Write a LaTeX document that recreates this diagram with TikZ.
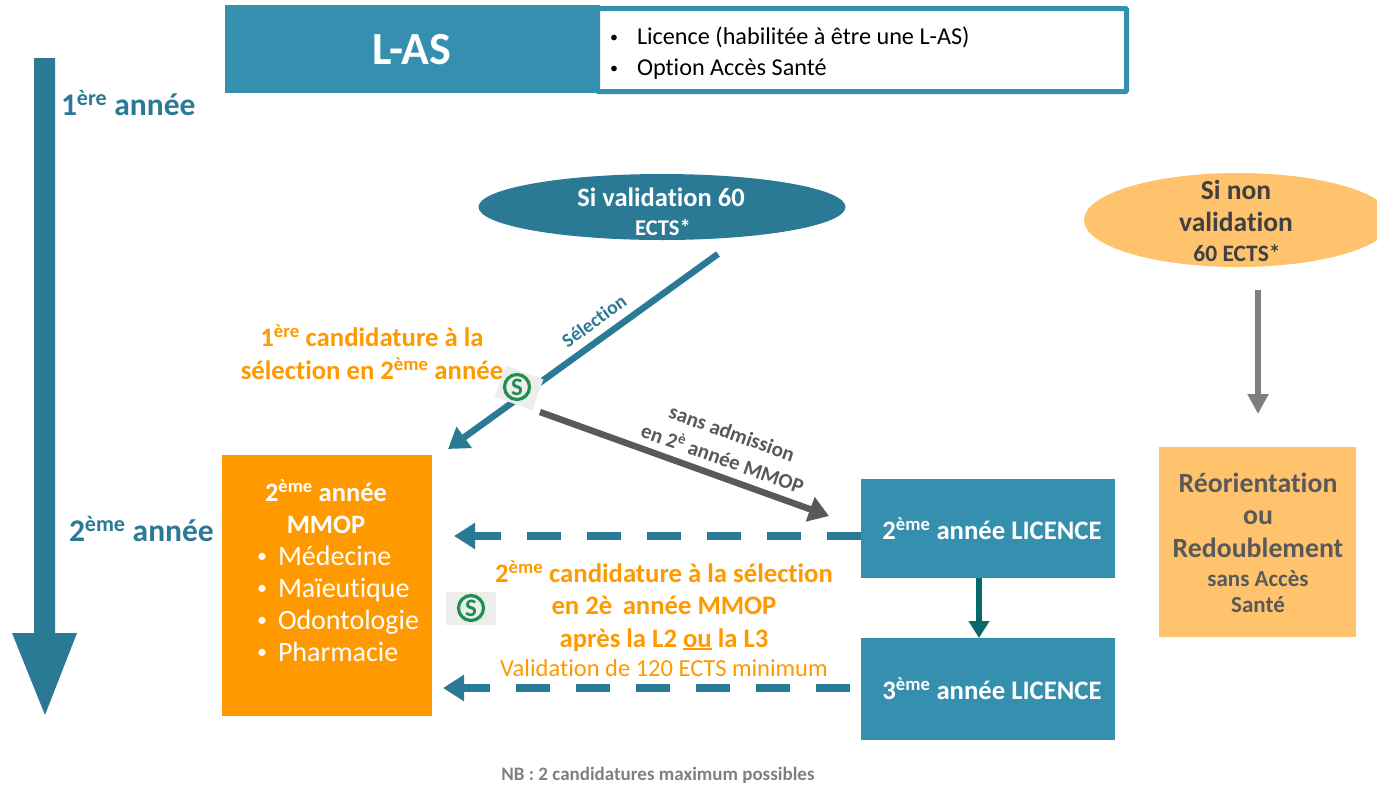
\documentclass[tikz,border=0pt]{standalone}
\usepackage{fontspec}
\setmainfont{Carlito}[Ligatures=NoCommon]
\usetikzlibrary{arrows.meta}
\definecolor{boxteal}{HTML}{3490AE}
\definecolor{darkteal}{HTML}{2B7A95}
\definecolor{orangeA}{HTML}{FF9900}
\definecolor{orangeB}{HTML}{FFC36D}
\definecolor{greyA}{HTML}{595959}
\definecolor{greyT}{HTML}{404040}
\definecolor{greyB}{HTML}{7F7F7F}
\definecolor{greenS}{HTML}{1E8F4E}
\definecolor{downgreen}{HTML}{056A6A}
\newcommand{\fs}[1]{\fontsize{#1}{#1}\selectfont}
\newcommand{\supr}[1]{\textsuperscript{#1}}
\newcommand{\ouline}[1]{\leavevmode\vtop{\hbox{#1}\kern0.5pt\hrule height 1.8pt}}
\tikzset{
  x=1pt,y=-1pt,
  every node/.style={inner sep=0pt,outer sep=0pt,align=center},
  tealbox/.style={fill=boxteal,draw=none,anchor=north west},
  yeartext/.style={text=darkteal,font=\bfseries\fs{31.5}},
  licbox/.style={text=white,font=\bfseries\fs{26.7}},
  orangetext/.style={text=orangeA,font=\bfseries\fs{26.7}},
  arrowdash/.style={draw=darkteal,line width=8pt,dash pattern=on 34pt off 26pt,-{Triangle[length=21pt,width=25pt]}},
  sbg/.style={fill=black!7,draw=none,minimum width=40pt,minimum height=33pt},
  scirc/.style={circle,draw=greenS,line width=3.2pt,minimum size=25pt,text=greenS,font=\bfseries\fs{25}},
}
\begin{document}
\begin{tikzpicture}
\useasboundingbox (0,0) rectangle (1377,785);
% left big arrow
\fill[darkteal] (34,58) -- (55,58) -- (55,633) -- (77,633) -- (45,715) -- (12,633) -- (34,633) -- cycle;
\node[yeartext,anchor=base west] (y1) at (61,115) {1\supr{ère} année};
\node[yeartext,anchor=base west] (y2) at (69,541) {2\supr{ème} année};
% top band
\fill[boxteal] (225,5) rectangle (600,93);
\node[text=white,font=\bfseries\fs{46}] (las) at (412,50) {L-AS};
\draw[boxteal,line width=5pt,fill=white,rounded corners=1pt] (597.5,8.5) rectangle (1126.5,91.5);
\node[anchor=base west,font=\fs{16}] (b1) at (610,42) {•};
\node[anchor=base west,font=\fs{24.2}] (t1) at (637,44) {Licence (habilitée à être une L-AS)};
\node[anchor=base west,font=\fs{16}] (b2) at (610,73) {•};
\node[anchor=base west,font=\fs{24.2}] (t2) at (637,75) {Option Accès Santé};
% ellipses
\fill[darkteal] (662,207) ellipse [x radius=183.5,y radius=33];
\node[text=white,font=\bfseries\fs{26.5}] (sv1) at (661,197) {Si validation 60};
\node[text=white,font=\bfseries\fs{22.5}] (sv2) at (663,228) {ECTS*};
\fill[orangeB] (1238,220) ellipse [x radius=154,y radius=47];
\node[text=greyT,font=\bfseries\fs{27.5}] (nv) at (1236,206) {Si non\\[4.5pt]validation};
\node[text=greyT,font=\bfseries\fs{23.5}] (nv2) at (1237,253) {60 ECTS*};
% main boxes
\node[fill=orangeA,anchor=north west,minimum width=210pt,minimum height=261pt] (mmop) at (222,455) {};
\node[text=white,font=\bfseries\fs{26.5}] (mt) at (326,507) {2\supr{ème} année\\[5.5pt]MMOP};
\foreach \yy/\tt in {565/Médecine,597/Maïeutique,629/Odontologie,661/Pharmacie}{
  \node[text=white,font=\fs{28},anchor=base west] at (278,\yy) {\tt};
  \node[text=white,font=\fs{20},anchor=base west] at (257,\yy-3) {•};
}
\node[tealbox,minimum width=254pt,minimum height=99pt] (l2) at (861,479) {};
\node[licbox] (l2t) at (992,529) {2\supr{ème} année LICENCE};
\node[tealbox,minimum width=254pt,minimum height=102pt] (l3) at (861,638) {};
\node[licbox] (l3t) at (992,689) {3\supr{ème} année LICENCE};
\node[fill=orangeB,anchor=north west,minimum width=197pt,minimum height=190pt] (reo) at (1159,447) {};
\node[text=greyA,font=\bfseries\fs{27.8}] (reot) at (1258,515) {Réorientation\\[4.7pt]ou\\[4.7pt]Redoublement};
\node[text=greyA,font=\bfseries\fs{23}] (reos) at (1258,592) {sans Accès\\[3pt]Santé};
% free connector ends
\coordinate (a1s) at (718,254);
\coordinate (a1e) at (448,449);
\coordinate (a2s) at (540,412);
\coordinate (a2e) at (829,516);
\coordinate (a3s) at (861,536);
\coordinate (a3e) at (454,536);
\coordinate (a4s) at (850,688);
\coordinate (a4e) at (443,688);
\coordinate (a5s) at (1258,290);
\coordinate (a5e) at (1258,414);
% connectors
\draw[darkteal,line width=6.5pt,-{Triangle[length=20pt,width=25pt]}] (a1s) -- (a1e);
\draw[greyA,line width=6.5pt,-{Triangle[length=20pt,width=25pt]}] (a2s) -- (a2e);
\draw[arrowdash] (a3s) -- (a3e);
\draw[arrowdash] (a4s) -- (a4e);
\draw[greyB,line width=6.5pt,-{Triangle[length=20pt,width=20pt]}] (a5s) -- (a5e);
\draw[downgreen,line width=6.5pt,-{Triangle[length=17pt,width=20pt]}] (l2.south -| 979,0) -- (l3.north -| 979,0);
% S icons
\node[sbg,rotate=-20] (s1) at (519,388) {};
\node[scirc] (s1c) at (517,387) {S};
\node[sbg,minimum width=50pt] (s2) at (471,608) {};
\node[scirc] (s2c) at (471,608) {S};
% labels
\node[text=darkteal,font=\bfseries\fs{19.5},rotate=36] (sel) at (594,321) {Sélection};
\node[text=greyA,font=\bfseries\fs{21},rotate=-19.5] (sa) at (732,433) {sans admission};
\node[text=greyA,font=\bfseries\fs{21},rotate=-19.5] (en2) at (723,457) {en 2\supr{è} année MMOP};
\node[orangetext] (c1) at (372,352) {1\supr{ère} candidature à la\\[6pt]sélection en 2\supr{ème} année};
\node[orangetext] (c2) at (664,606) {2\supr{ème} candidature à la sélection\\[6pt]en 2è\, année MMOP\\[6pt]après la L2 \ouline{ou} la L3};
\node[text=orangeA,font=\fs{24.5}] (v) at (664,668) {Validation de 120 ECTS minimum};
\node[text=greyB,font=\bfseries\fs{19}] (nb) at (658,775) {NB : 2 candidatures maximum possibles};
\end{tikzpicture}
\end{document}
